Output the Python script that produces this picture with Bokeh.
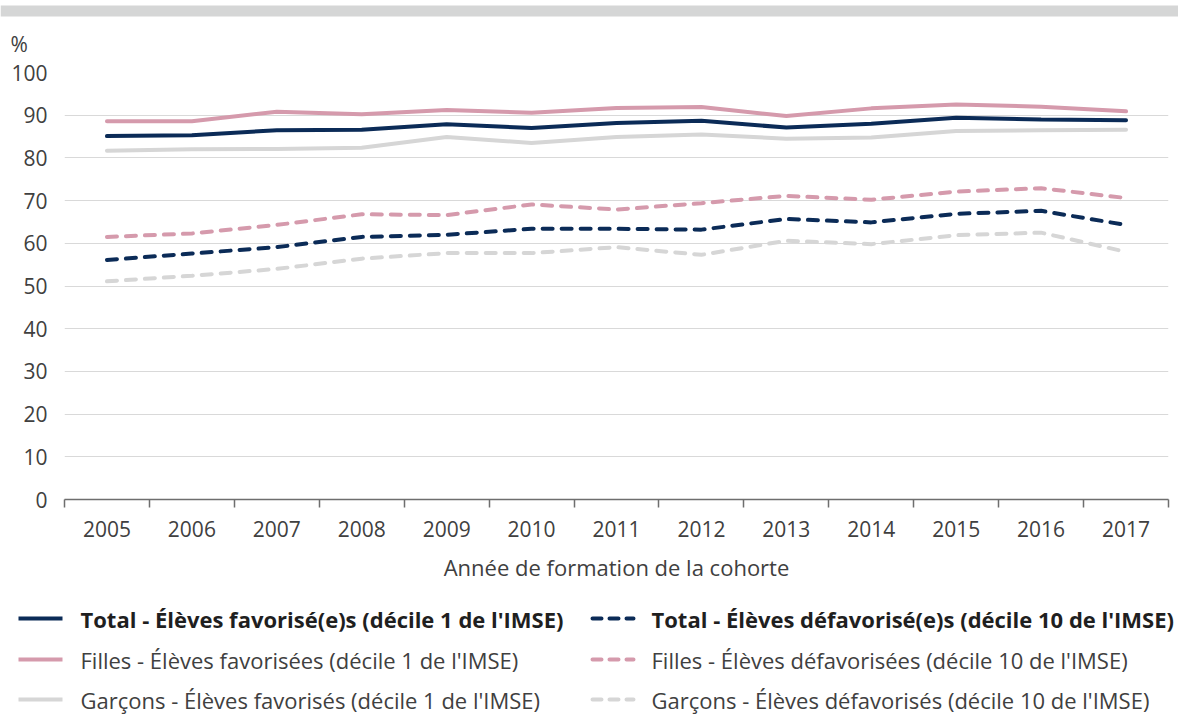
from bokeh.plotting import figure
from bokeh.models import Range1d, FixedTicker
from bokeh.layouts import column
from bokeh.core.properties import value
from bokeh.embed import file_html
from bokeh.resources import INLINE

years = ["2005", "2006", "2007", "2008", "2009", "2010", "2011",
         "2012", "2013", "2014", "2015", "2016", "2017"]

total_fav = [85.1, 85.3, 86.5, 86.6, 87.9, 87.0, 88.2, 88.7, 87.1, 88.0, 89.4, 89.0, 88.8]
filles_fav = [88.6, 88.6, 90.8, 90.2, 91.2, 90.6, 91.7, 91.9, 89.8, 91.6, 92.5, 92.0, 90.9]
garcons_fav = [81.7, 82.0, 82.1, 82.4, 84.9, 83.5, 84.9, 85.5, 84.5, 84.8, 86.3, 86.5, 86.6]
total_defav = [56.1, 57.6, 59.1, 61.5, 62.0, 63.4, 63.4, 63.2, 65.7, 64.9, 66.9, 67.6, 64.3]
filles_defav = [61.5, 62.3, 64.3, 66.8, 66.6, 69.1, 67.9, 69.4, 71.1, 70.2, 72.1, 72.9, 70.6]
garcons_defav = [51.1, 52.4, 54.0, 56.4, 57.7, 57.7, 59.1, 57.3, 60.6, 59.8, 61.9, 62.5, 58.0]

y_ticks = [0, 10, 20, 30, 40, 50, 60, 70, 80, 90, 100]
unit_label = "%"
x_title = "Année de formation de la cohorte"

labels_left = ["Total - Élèves favorisé(e)s (décile 1 de l'IMSE)",
               "Filles - Élèves favorisées (décile 1 de l'IMSE)",
               "Garçons - Élèves favorisés (décile 1 de l'IMSE)"]
labels_right = ["Total - Élèves défavorisé(e)s (décile 10 de l'IMSE)",
                "Filles -  Élèves défavorisées (décile 10 de l'IMSE)",
                "Garçons - Élèves défavorisés (décile 10 de l'IMSE)"]

NAVY = "#0b2b57"
PINK = "#d59aac"
GRAY = "#d6d6d6"
BAR = "#d5d6d6"
TXT = "#404040"
FONT = "Open Sans"
DASH = "10 9"
LW = 4

W = 1178

# ---- header: gray band + unit label (pixel-like coordinates) ----
TH = 60
top = figure(width=W, height=TH, output_backend="svg", toolbar_location=None,
             x_range=Range1d(0, W), y_range=Range1d(TH, 0), min_border=0,
             x_axis_type=None, y_axis_type=None, frame_align=False)
top.outline_line_color = None
top.grid.visible = False
top.background_fill_color = "white"
top.border_fill_color = "white"
top.quad(left=[0], right=[W], top=[5], bottom=[16], color=BAR, line_color=None)
top.text(x=[10], y=[43], text=[unit_label], text_font=value(FONT),
         text_font_size="21px", text_color=TXT, text_baseline="middle",
         text_align="left")

# ---- main chart ----
n = len(years)
xs = [i + 0.5 for i in range(n)]

MH = 530
p = figure(width=W, height=MH, output_backend="svg", toolbar_location=None,
           x_range=Range1d(0, n), y_range=Range1d(0, 100),
           min_border_left=64, min_border_right=10, min_border_top=12,
           min_border_bottom=91, frame_align=False)
p.outline_line_color = None
p.background_fill_color = "white"
p.border_fill_color = "white"
p.xgrid.visible = False
p.ygrid.grid_line_color = "#d9d9d9"
p.ygrid.grid_line_width = 1
p.yaxis.ticker = FixedTicker(ticks=y_ticks)
p.yaxis.axis_line_color = None
p.yaxis.major_tick_line_color = None
p.yaxis.minor_tick_line_color = None
p.yaxis.major_tick_out = 0
p.yaxis.major_tick_in = 0
p.yaxis.major_label_standoff = 17
p.yaxis.major_label_text_font = FONT
p.yaxis.major_label_text_font_size = "21px"
p.yaxis.major_label_text_color = TXT

p.xaxis.ticker = FixedTicker(ticks=xs, minor_ticks=list(range(n + 1)))
p.xaxis.major_label_overrides = {x: y for x, y in zip(xs, years)}
p.xaxis.major_tick_line_color = None
p.xaxis.major_tick_out = 0
p.xaxis.major_tick_in = 0
p.xaxis.minor_tick_line_color = "#6e6e6e"
p.xaxis.minor_tick_line_width = 1.5
p.xaxis.minor_tick_out = 8
p.xaxis.minor_tick_in = 0
p.xaxis.axis_line_color = "#6e6e6e"
p.xaxis.axis_line_width = 1.5
p.xaxis.major_label_standoff = 13
p.xaxis.major_label_text_font = FONT
p.xaxis.major_label_text_font_size = "21px"
p.xaxis.major_label_text_color = TXT
p.xaxis.axis_label = x_title
p.xaxis.axis_label_text_font = FONT
p.xaxis.axis_label_text_font_size = "22px"
p.xaxis.axis_label_text_font_style = "normal"
p.xaxis.axis_label_text_color = TXT
p.xaxis.axis_label_standoff = 12

p.line(xs, garcons_defav, color=GRAY, line_width=LW, line_dash=DASH, line_cap="round")
p.line(xs, filles_defav, color=PINK, line_width=LW, line_dash=DASH, line_cap="round")
p.line(xs, total_defav, color=NAVY, line_width=LW, line_dash=DASH, line_cap="round")
p.line(xs, garcons_fav, color=GRAY, line_width=LW, line_cap="round")
p.line(xs, filles_fav, color=PINK, line_width=LW, line_cap="round")
p.line(xs, total_fav, color=NAVY, line_width=LW, line_cap="round")

# ---- legend (pixel-like coordinates) ----
LH = 715 - TH - MH
lg = figure(width=W, height=LH, output_backend="svg", toolbar_location=None,
            x_range=Range1d(0, W), y_range=Range1d(LH, 0), min_border=0,
            x_axis_type=None, y_axis_type=None, frame_align=False)
lg.outline_line_color = None
lg.grid.visible = False
lg.background_fill_color = "white"
lg.border_fill_color = "white"

rows_y = [28, 69, 109]
colors = [NAVY, PINK, GRAY]
for i in range(3):
    lg.line([18, 62], [rows_y[i], rows_y[i]], color=colors[i], line_width=LW)
    lg.line([592, 633], [rows_y[i], rows_y[i]], color=colors[i], line_width=LW,
            line_dash="9 8", line_cap="round")
    style = "bold" if i == 0 else "normal"
    col = "#1f1f1f" if i == 0 else TXT
    lg.text(x=[80, 651], y=[rows_y[i], rows_y[i]], text=[labels_left[i], labels_right[i]],
            text_font=value(FONT), text_font_size="22px", text_font_style=style,
            text_color=col, text_baseline="middle", text_align="left")

layout = column(top, p, lg, spacing=0)
open("out.html", "w").write(file_html(layout, INLINE))
